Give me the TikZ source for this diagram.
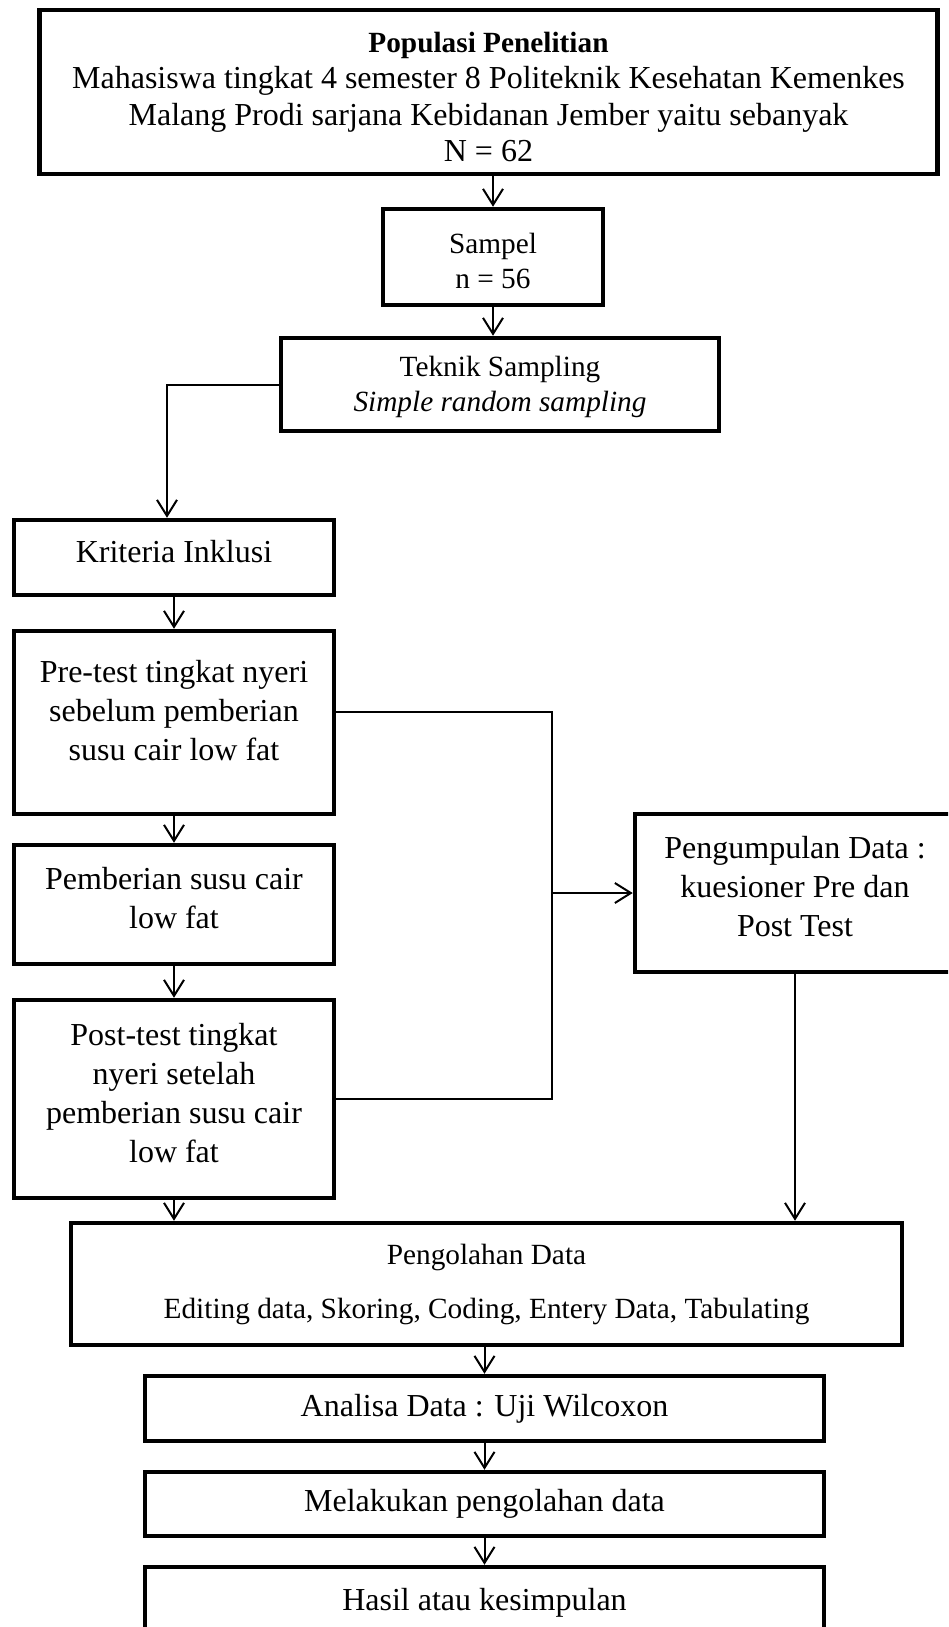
\documentclass[tikz,border=0pt]{standalone}
\usepackage{fontspec}
\setmainfont{Liberation Serif}
\usetikzlibrary{arrows.meta, positioning, calc}

\newcommand{\bigtext}{\fontsize{32}{39}\selectfont}
\newcommand{\smalltext}{\fontsize{29.3}{35}\selectfont}

\begin{document}
\begin{tikzpicture}[
    x=1pt, y=1pt,
    >={Straight Barb[length=16pt, width=20pt]},
    block/.style={rectangle, draw, line width=4.5pt, align=center,
                  inner sep=0pt, font=\bigtext},
    raisetext/.style={text depth=#1},
    lowertext/.style={text height=#1},
    arrow/.style={->, line width=2pt},
    link/.style={line width=2pt},
]
    \useasboundingbox (0,0) rectangle (948,-1627);
    \clip (0,0) rectangle (948,-1627);

    % Populasi dan sampel
    \node[block, minimum width=898pt, minimum height=164pt, lowertext=140pt,
          font=\fontsize{32}{36.5}\selectfont] (popul) at (488.5,-92)
          {{\bfseries\fontsize{29.3}{36.5}\selectfont Populasi Penelitian}\\
           Mahasiswa tingkat 4 semester 8 Politeknik Kesehatan Kemenkes\\
           Malang Prodi sarjana Kebidanan Jember yaitu sebanyak\\
           N = 62};
    \node[block, minimum width=220pt, minimum height=96pt, font=\smalltext,
          lowertext=63pt, below=30.5pt of popul, xshift=4.5pt] (sampel)
          {Sampel\\n = 56};
    \node[block, minimum width=438pt, minimum height=93pt, font=\smalltext,
          lowertext=61pt, below=28.5pt of sampel, xshift=7pt] (teknik)
          {Teknik Sampling\\\textit{Simple random sampling}};

    % Kolom kiri
    \node[block, minimum width=320pt, minimum height=75pt, raisetext=13pt]
          (inklusi) at (174,-557.5) {Kriteria Inklusi};
    \node[block, minimum width=320pt, minimum height=183pt, raisetext=25pt,
          below=31.5pt of inklusi] (pretest)
          {Pre-test tingkat nyeri\\sebelum pemberian\\susu cair low fat};
    \node[block, minimum width=320pt, minimum height=119pt, raisetext=13pt,
          below=26.5pt of pretest] (intervensi)
          {Pemberian susu cair\\low fat};
    \node[block, minimum width=320pt, minimum height=198pt, raisetext=13pt,
          below=31.5pt of intervensi] (posttest)
          {Post-test tingkat\\nyeri setelah\\pemberian susu cair\\low fat};

    % Pengumpulan data
    \node[block, minimum width=320pt, minimum height=158pt, raisetext=13pt]
          (kumpul) at (795,-893)
          {Pengumpulan Data :\\kuesioner Pre dan\\Post Test};

    % Pengolahan dan analisa
    \node[block, minimum width=831pt, minimum height=122pt, font=\smalltext]
          (olah) at (486.5,-1284)
          {Pengolahan Data\\[19pt]Editing data, Skoring, Coding, Entery Data, Tabulating};
    \node[block, minimum width=679pt, minimum height=65pt,
          below=26.5pt of olah, xshift=-2pt] (analisa)
          {Analisa Data : Uji Wilcoxon};
    \node[block, minimum width=679pt, minimum height=64pt,
          below=26.5pt of analisa] (lakukan) {Melakukan pengolahan data};
    \node[block, minimum width=679pt, minimum height=72pt,
          below=26.5pt of lakukan] (hasil) {Hasil atau kesimpulan};

    \draw[arrow] (popul.south -| sampel.north) -- (sampel.north);
    \draw[arrow] (sampel.south) -- (sampel.south |- teknik.north);
    \draw[arrow] (teknik.west) -| ([xshift=-7pt]inklusi.north);
    \draw[arrow] (inklusi.south) -- (pretest.north);
    \draw[arrow] (pretest.south) -- (intervensi.north);
    \draw[arrow] (intervensi.south) -- (posttest.north);
    \draw[arrow] (posttest.south) -- (posttest.south |- olah.north);

    % Jalur pre/post test ke pengumpulan data
    \coordinate (busTop) at ($(pretest.east)+(216,11)$);
    \coordinate (busBot) at (busTop |- posttest.east);
    \draw[link] ([yshift=11pt]pretest.east) -- (busTop) -- (busBot) -- (posttest.east);
    \draw[arrow] (busTop |- kumpul.west) -- (kumpul.west);
    \draw[arrow] (kumpul.south) -- (kumpul.south |- olah.north);

    \draw[arrow] (olah.south -| analisa.north) -- (analisa.north);
    \draw[arrow] (analisa.south) -- (lakukan.north);
    \draw[arrow] (lakukan.south) -- (hasil.north);

\end{tikzpicture}
\end{document}
